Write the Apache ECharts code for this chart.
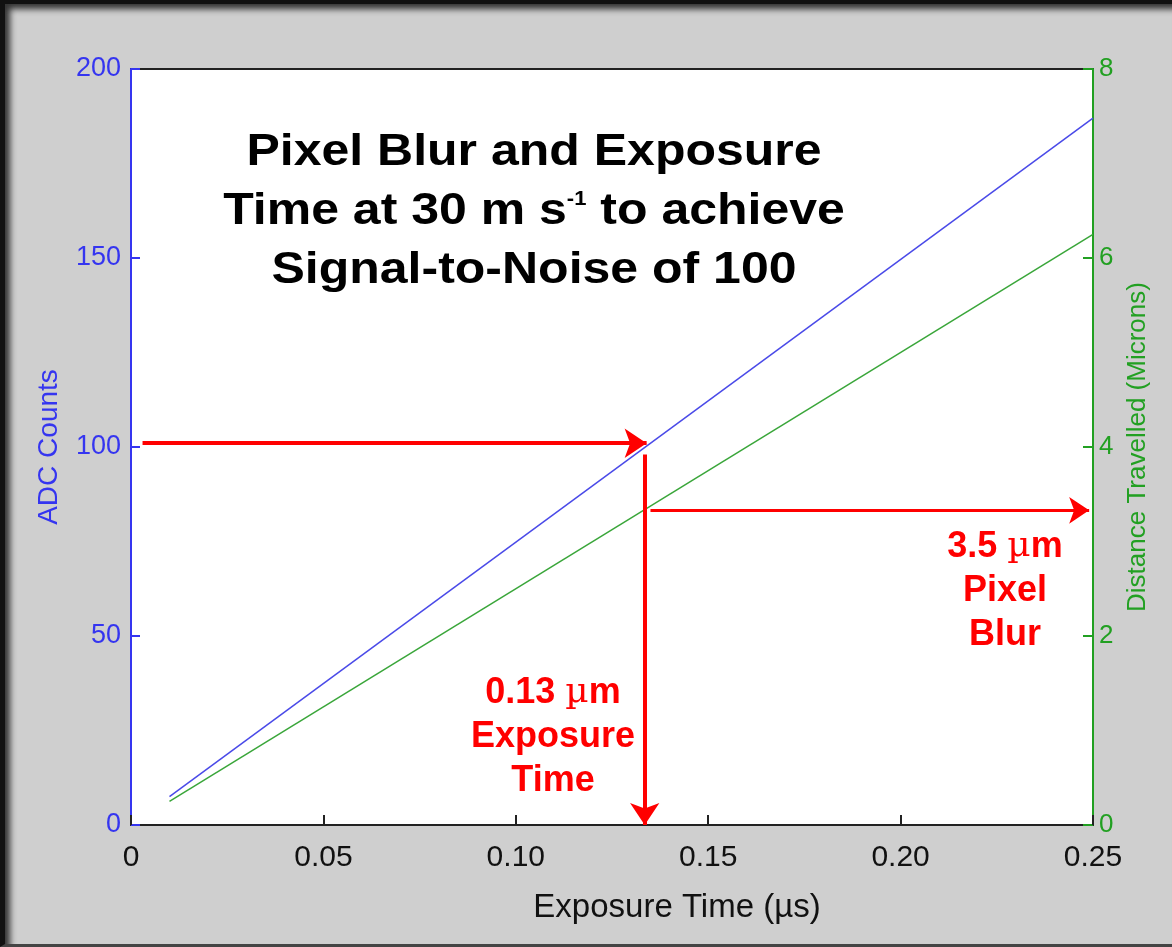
<!DOCTYPE html>
<html>
<head>
<meta charset="utf-8">
<script src="https://cdn.jsdelivr.net/npm/echarts@6/dist/echarts.min.js"></script>
<style>
  html, body { margin: 0; padding: 0; background: #cfcfcf; }
  #wrap { position: relative; width: 1172px; height: 947px; }
  #main { position: absolute; left: 0; top: 0; width: 1172px; height: 947px; }
  #frame {
    position: absolute; left: 0; top: 0; width: 1172px; height: 947px;
    box-sizing: border-box; pointer-events: none;
    border-top: 4px solid #111; border-left: 5px solid #111; border-bottom: 3px solid #444;
    box-shadow: inset 6px 6px 6px -1px #333;
  }
</style>
</head>
<body>
<div id="wrap">
  <div id="main"></div>
  <div id="frame"></div>
</div>
<script>
// x axis ticks (µs)
var xTicks = [0, 0.05, 0.10, 0.15, 0.20, 0.25];
// ADC counts vs exposure time (blue, left axis)
var adcCounts = [[0.01, 7.5], [0.25, 187]];
// distance travelled in microns (green, right axis)
var distance = [[0.01, 0.25], [0.25, 6.25]];
// red arrows: ADC 100 -> exposure time, exposure time -> pixel blur
var arrowAdc = [[[0.003, 101], [0.134, 101]], [[0.1335, 98], [0.1335, 0]]];
var arrowBlur = [[[0.135, 3.33], [0.249, 3.33]]];

var FONT = "'Liberation Sans', Arial, sans-serif";
var BLUE = '#3535f0';
var GREEN = '#22a022';
var RED = '#ff0000';

var myChart = echarts.init(document.getElementById('main'));

var option = {
    backgroundColor: '#cfcfcf',
    animation: false,
    grid: {
        left: 131, right: 79, top: 69, bottom: 122,
        show: true, backgroundColor: '#fff', borderColor: '#222', borderWidth: 2
    },
    xAxis: {
        type: 'value', min: xTicks[0], max: xTicks[xTicks.length - 1], interval: 0.05,
        name: 'Exposure Time (µs)', nameLocation: 'middle', nameGap: 66,
        nameTextStyle: { color: '#111', fontSize: 33, fontFamily: FONT, padding: [0, 0, 0, 130] },
        axisLine: { lineStyle: { color: '#222', width: 2 } },
        axisTick: { inside: true, length: 10, lineStyle: { color: '#222', width: 2 } },
        axisLabel: {
            color: '#111', fontSize: 30, fontFamily: FONT, margin: 18,
            formatter: function (v) { return v === 0 ? '0' : v.toFixed(2); }
        },
        splitLine: { show: false }
    },
    yAxis: [{
        type: 'value', min: 0, max: 200, interval: 50, position: 'left',
        name: 'ADC Counts', nameLocation: 'middle', nameGap: 68, nameRotate: 90,
        nameTextStyle: { color: BLUE, fontSize: 28, fontFamily: FONT },
        axisLine: { show: true, lineStyle: { color: BLUE, width: 2 } },
        axisTick: { inside: true, length: 9, lineStyle: { color: BLUE, width: 2 } },
        axisLabel: { color: BLUE, fontSize: 27, fontFamily: FONT, margin: 10 },
        splitLine: { show: false }
    }, {
        type: 'value', min: 0, max: 8, interval: 2, position: 'right',
        name: 'Distance Travelled (Microns)', nameLocation: 'middle', nameGap: 30, nameRotate: 90,
        nameTextStyle: { color: GREEN, fontSize: 26, fontFamily: FONT },
        axisLine: { show: true, lineStyle: { color: GREEN, width: 2 } },
        axisTick: { inside: true, length: 10, lineStyle: { color: GREEN, width: 2 } },
        axisLabel: { color: GREEN, fontSize: 26, fontFamily: FONT, margin: 6 },
        splitLine: { show: false }
    }],
    series: [{
        name: 'ADC Counts', type: 'line', yAxisIndex: 0,
        data: adcCounts, showSymbol: false,
        lineStyle: { color: '#4a4ae8', width: 1.5 }
    }, {
        name: 'Distance', type: 'line', yAxisIndex: 1,
        data: distance, showSymbol: false,
        lineStyle: { color: '#3aa63a', width: 1.5 }
    }, {
        type: 'lines', coordinateSystem: 'cartesian2d', yAxisIndex: 0, z: 5,
        data: arrowAdc.map(function (c) { return { coords: c }; }),
        symbol: ['none', 'arrow'], symbolSize: 22,
        lineStyle: { color: RED, width: 4, opacity: 1 }
    }, {
        type: 'lines', coordinateSystem: 'cartesian2d', yAxisIndex: 1, z: 5,
        data: arrowBlur.map(function (c) { return { coords: c }; }),
        symbol: ['none', 'arrow'], symbolSize: 20,
        lineStyle: { color: RED, width: 3, opacity: 1 }
    }],
    graphic: [{
        type: 'text', z: 10, x: 534, y: 123, scaleY: 0.88,
        style: {
            align: 'center', verticalAlign: 'top',
            text: '{t|Pixel Blur and Exposure}\n{t|Time at 30 m s}{s|-1}{t| to achieve}\n{t|Signal-to-Noise of 100}',
            rich: {
                t: { fontSize: 50, fontWeight: 'bold', fontFamily: FONT, fill: '#000', lineHeight: 67 },
                s: { fontSize: 22, fontWeight: 'bold', fontFamily: FONT, fill: '#000', lineHeight: 67, padding: [0, 0, 26, 0] }
            }
        }
    }, {
        type: 'text', z: 10, x: 553, y: 671,
        style: {
            align: 'center', verticalAlign: 'top',
            text: '{t|0.13 }{u|µ}{t|m}\n{t|Exposure}\n{t|Time}',
            rich: {
                t: { fontSize: 36, fontWeight: 'bold', fontFamily: FONT, fill: RED, lineHeight: 44 },
                u: { fontSize: 36, fontFamily: "'DejaVu Serif', serif", fill: RED, lineHeight: 44 }
            }
        }
    }, {
        type: 'text', z: 10, x: 1005, y: 525,
        style: {
            align: 'center', verticalAlign: 'top',
            text: '{t|3.5 }{u|µ}{t|m}\n{t|Pixel}\n{t|Blur}',
            rich: {
                t: { fontSize: 36, fontWeight: 'bold', fontFamily: FONT, fill: RED, lineHeight: 44 },
                u: { fontSize: 36, fontFamily: "'DejaVu Serif', serif", fill: RED, lineHeight: 44 }
            }
        }
    }]
};

myChart.setOption(option);
</script>
</body>
</html>
